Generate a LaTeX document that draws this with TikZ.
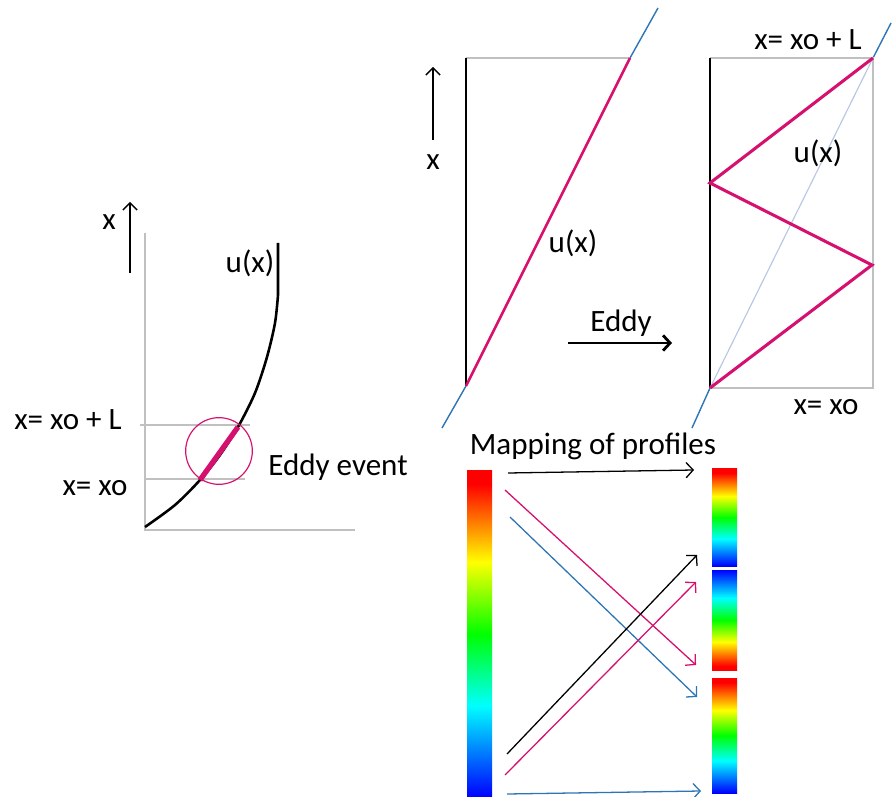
\documentclass[tikz,border=0pt]{standalone}
\usepackage{fontspec}
\setmainfont{Carlito}
\usetikzlibrary{arrows.meta}

\definecolor{eddymag}{RGB}{214,16,110}
\definecolor{lineblue}{RGB}{46,117,182}
\definecolor{paleblue}{RGB}{184,200,228}
\definecolor{axisgray}{RGB}{192,192,192}

% jet colour bar, red on top
\pgfdeclareverticalshading{jet}{100bp}{color(0bp)=(blue); color(25bp)=(blue);
  color(39bp)=(cyan); color(50bp)=(green); color(61bp)=(yellow);
  rgb(67bp)=(1,0.5,0); color(73bp)=(red); color(100bp)=(red)}

\begin{document}
\begin{tikzpicture}[x=0.03cm, y=-0.03cm,
                    lbl/.style={font=\fontsize{26.5}{30}\selectfont, inner sep=0pt},
                    grayline/.style={draw=axisgray, line width=1.1pt},
                    profile/.style={draw=eddymag, line width=2.2pt},
                    uparrow/.style={-{Straight Barb[length=6pt, width=12pt]}, line width=1.2pt},
                    maparrow/.style={-{Straight Barb[length=6pt, width=13pt]}, line width=1.1pt}
                ]
    \useasboundingbox (0,0) rectangle (893,797);

    % left: profile with eddy event
    \draw[grayline] (145,233) -- (145,530) -- (355,530);
    \draw[grayline] (140,425) -- (250,425);
    \draw[grayline] (145,479) -- (245,479);
    \coordinate (lbot) at (130,273);
    \coordinate (ltop) at (130,202);
    \draw[uparrow] (lbot) -- (ltop);
    \node[lbl] (lx) at (109,222) {x};
    \draw[line width=2.2pt] plot[smooth] coordinates {(145,527) (175,505) (200,480) (220,455) (238,427) (255,393) (267,357) (275,323) (278,295)} -- (278,243);
    \draw[eddymag, line width=4.5pt] (200,480) -- (238,427);
    \node[draw=eddymag, line width=1pt, circle, minimum size=2cm] (event) at (219,451) {};
    \node[lbl] (lu) at (250,263) {u(x)};
    \node[lbl] (xl) at (68,420) {x= xo + L};
    \node[lbl] (x0) at (95,488) {x= xo};
    \node[lbl] (evt) at (338,467) {Eddy event};

    % middle: linear profile before the eddy
    \draw[lineblue, line width=1.2pt] (442,428) -- (466,386);
    \draw[lineblue, line width=1.2pt] (630,58) -- (658,8);
    \draw[grayline] (466,58) -- (630,58);
    \draw[line width=1.1pt] (466,58) -- (466,386);
    \draw[profile] (466,386) -- (630,58);
    \draw[uparrow] (433,140) -- (433,67);
    \node[lbl] (mx) at (433,162) {x};
    \node[lbl] (mu) at (573,243) {u(x)};
    \coordinate (eddyA) at (568,343);
    \coordinate (eddyB) at (672,343);
    \draw[-{Straight Barb[length=6pt, width=13pt]}, line width=2.4pt] (eddyA) -- (eddyB);
    \node[lbl] (eddy) at (621,323) {Eddy};

    % right: triplet map
    \draw[lineblue, line width=1.2pt] (692,428) -- (710,388);
    \draw[lineblue, line width=1.2pt] (873,58) -- (891,23);
    \draw[grayline] (710,58) -- (873,58) -- (873,388) -- (710,388);
    \draw[line width=1.1pt] (710,58) -- (710,388);
    \draw[paleblue, line width=1pt] (710,388) -- (873,58);
    \draw[profile, line width=2.6pt] (710,388) -- (872,265) -- (710,183) -- (873,58);
    \node[lbl] (rxl) at (808,40) {x= xo + L};
    \node[lbl] (ru) at (818,153) {u(x)};
    \node[lbl] (rx0) at (826,407) {x= xo};

    % bottom: mapping of profiles
    \node[lbl] (maptitle) at (593,446) {Mapping of profiles};
    \shade[shading=jet] (467,471) rectangle (492,797);
    \shade[shading=jet] (712,469) rectangle (737,566);
    \shade[shading=jet, shading angle=180] (712,570) rectangle (737,670);
    \shade[shading=jet] (712,678) rectangle (737,793);

    \coordinate (s1) at (508,473);  \coordinate (t1) at (694,470);
    \coordinate (s2) at (505,490);  \coordinate (t2) at (696,665);
    \coordinate (s3) at (510,517);  \coordinate (t3) at (697,697);
    \coordinate (s4) at (507,754);  \coordinate (t4) at (697,555);
    \coordinate (s5) at (505,775);  \coordinate (t5) at (696,582);
    \coordinate (s6) at (507,794);  \coordinate (t6) at (701,791);
    \draw[maparrow] (s1) -- (t1);
    \draw[maparrow, eddymag] (s2) -- (t2);
    \draw[maparrow, lineblue] (s3) -- (t3);
    \draw[maparrow] (s4) -- (t4);
    \draw[maparrow, eddymag] (s5) -- (t5);
    \draw[maparrow, lineblue] (s6) -- (t6);
\end{tikzpicture}
\end{document}
